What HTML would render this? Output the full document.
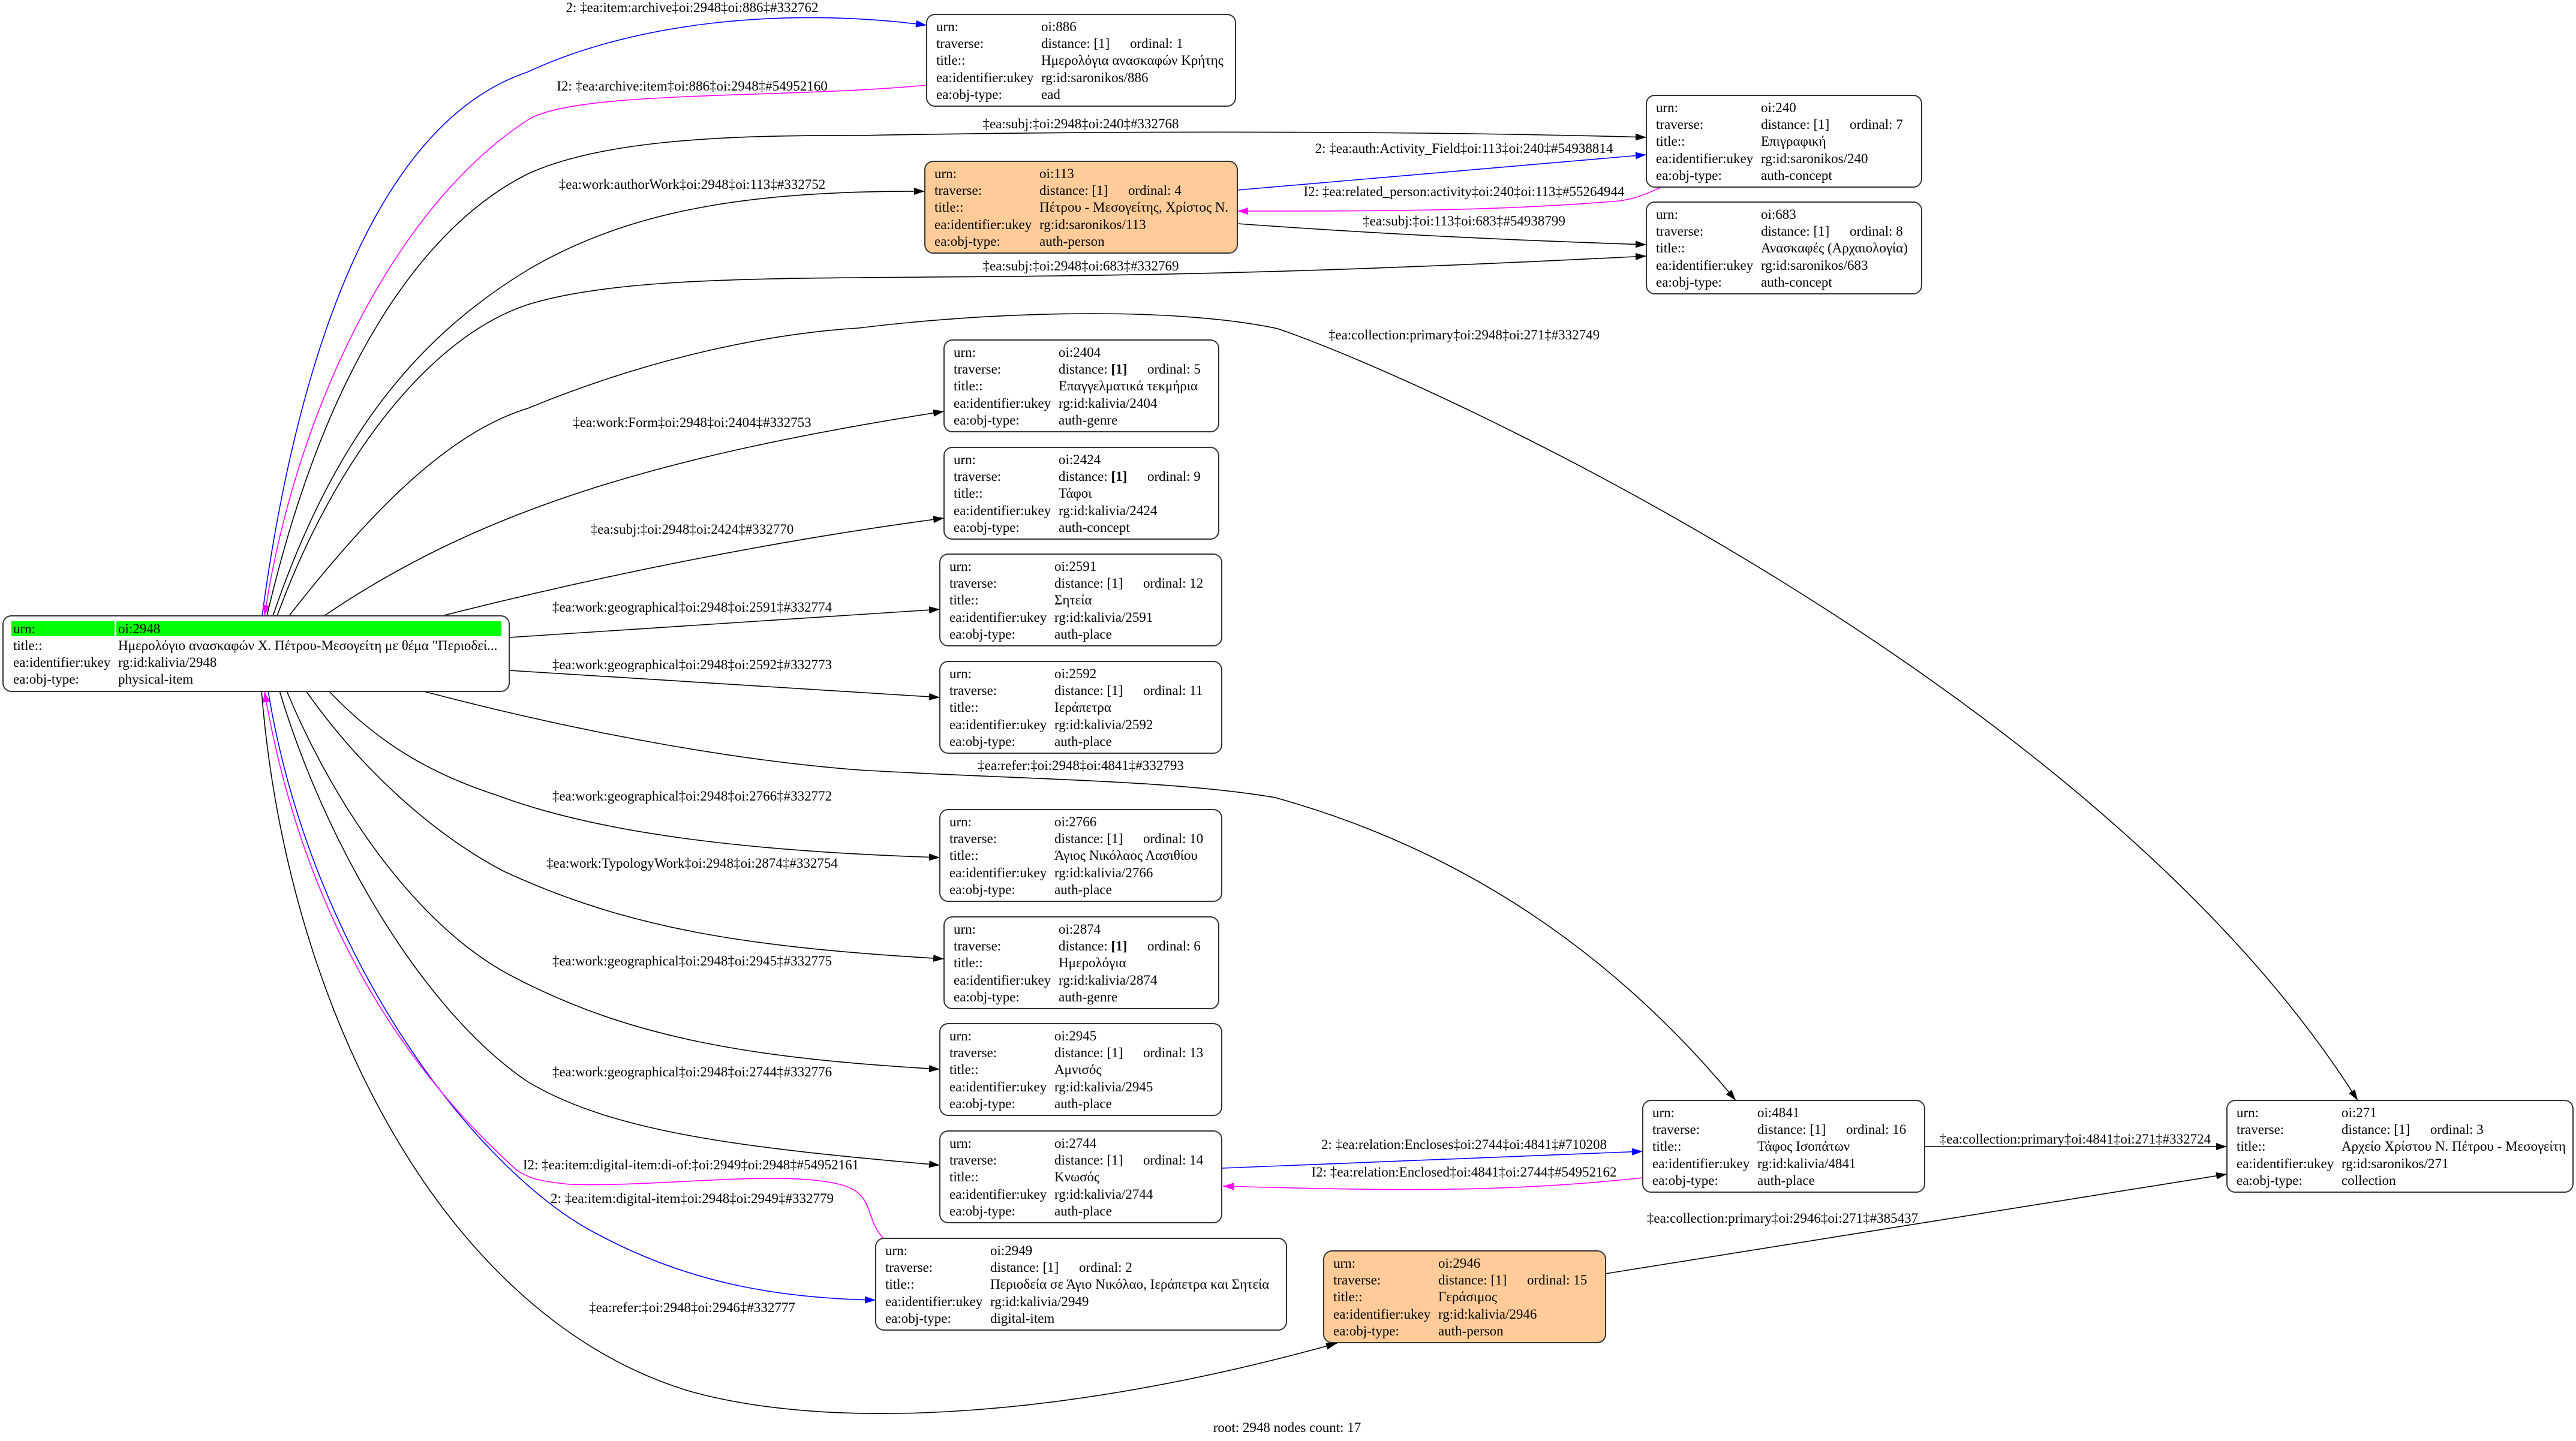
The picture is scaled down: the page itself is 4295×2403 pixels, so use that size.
<!DOCTYPE html>
<html><head><meta charset="utf-8"><style>
html,body{margin:0;padding:0;background:#fff;}
svg{display:block;}
text{font-family:"Liberation Serif","DejaVu Serif",serif;font-size:23px;fill:#000;}
.e{fill:none;stroke-width:1.6;}
.k{stroke:#000}.b{stroke:#0000ff}.m{stroke:#ff00ff}
.n{fill:#fff;stroke:#333;stroke-width:2}
.o{fill:#ffcc99;stroke:#333;stroke-width:2}
.l{text-anchor:middle}
</style></head><body>
<svg width="4295" height="2403" viewBox="0 0 4295 2403" xmlns="http://www.w3.org/2000/svg">
<defs>
<marker id="ak" markerUnits="userSpaceOnUse" markerWidth="20" markerHeight="14" refX="18" refY="6" orient="auto"><path d="M0,0 L18,6 L0,12 z" fill="#000"/></marker>
<marker id="ab" markerUnits="userSpaceOnUse" markerWidth="20" markerHeight="14" refX="18" refY="6" orient="auto"><path d="M0,0 L18,6 L0,12 z" fill="#0000ff"/></marker>
<marker id="am" markerUnits="userSpaceOnUse" markerWidth="20" markerHeight="14" refX="18" refY="6" orient="auto"><path d="M0,0 L18,6 L0,12 z" fill="#ff00ff"/></marker>
</defs>

<!-- edges -->
<path class="e b" marker-end="url(#ab)" d="M437,1027 C500,560 640,200 880,120 C1050,40 1300,10 1545,42"/>
<path class="e m" marker-end="url(#am)" d="M1545,142 C1300,165 960,150 880,200 C650,350 490,700 441,1027"/>
<path class="e k" marker-end="url(#ak)" d="M445,1027 C540,620 700,380 880,290 C1000,235 1200,225 1432,226 C2000,215 2500,222 2745,229"/>
<path class="e k" marker-end="url(#ak)" d="M455,1027 C560,720 700,560 880,450 C1050,350 1250,318 1542,319"/>
<path class="e k" marker-end="url(#ak)" d="M462,1027 C560,760 720,560 880,508 C1000,470 1200,465 1432,463 C1800,460 2100,460 2745,427"/>
<path class="e k" marker-end="url(#ak)" d="M482,1027 C620,850 750,720 880,681 C1100,590 1300,555 1432,547 C1650,520 1950,510 2130,548 C2400,640 3500,1150 3931,1835"/>
<path class="e k" marker-end="url(#ak)" d="M539,1028 C800,850 1100,760 1574,686"/>
<path class="e k" marker-end="url(#ak)" d="M733,1028 C1000,960 1300,900 1574,864"/>
<path class="e k" marker-end="url(#ak)" d="M849,1063 C1100,1045 1350,1030 1567,1016"/>
<path class="e k" marker-end="url(#ak)" d="M849,1118 C1100,1135 1350,1150 1567,1163"/>
<path class="e k" marker-end="url(#ak)" d="M703,1152 C1000,1230 1250,1270 1432,1284 C1700,1300 1950,1300 2126,1330 C2450,1420 2700,1600 2894,1835"/>
<path class="e k" marker-end="url(#ak)" d="M548,1152 C650,1260 750,1300 831,1327 C1000,1390 1250,1420 1567,1430"/>
<path class="e k" marker-end="url(#ak)" d="M510,1152 C600,1280 720,1390 840,1453 C1050,1550 1250,1580 1574,1599"/>
<path class="e k" marker-end="url(#ak)" d="M478,1152 C560,1350 700,1550 858,1630 C1050,1730 1250,1765 1567,1783"/>
<path class="e k" marker-end="url(#ak)" d="M466,1152 C540,1400 700,1680 877,1802 C1020,1890 1250,1915 1567,1943"/>
<path class="e b" marker-end="url(#ab)" d="M447,1152 C520,1600 800,1960 1000,2060 C1150,2140 1300,2165 1460,2168"/>
<path class="e m" marker-end="url(#am)" d="M1473,2065 C1440,2030 1460,1990 1400,1975 C1300,1950 1100,1980 950,1975 C900,1970 880,1965 860,1950 C650,1760 500,1500 441,1153"/>
<path class="e k" marker-end="url(#ak)" d="M436,1152 C480,1700 750,2200 1150,2320 C1400,2390 1800,2360 2229,2240"/>
<path class="e b" marker-end="url(#ab)" d="M2038,1948 L2739,1920"/>
<path class="e m" marker-end="url(#am)" d="M2739,1964 C2500,1990 2300,1985 2039,1978"/>
<path class="e k" marker-end="url(#ak)" d="M3209,1912 L3713,1912"/>
<path class="e k" marker-end="url(#ak)" d="M2677,2124 L3713,1958"/>
<path class="e b" marker-end="url(#ab)" d="M2063,317 L2745,258"/>
<path class="e m" marker-end="url(#am)" d="M2771,312 C2750,320 2735,330 2700,335 C2500,352 2300,352 2063,352"/>
<path class="e k" marker-end="url(#ak)" d="M2063,373 C2300,390 2500,400 2745,408"/>

<!-- edge labels -->
<g class="l">
<text class="l" x="1154" y="20">2: ‡ea:item:archive‡oi:2948‡oi:886‡#332762</text>
<text class="l" x="1154" y="151">I2: ‡ea:archive:item‡oi:886‡oi:2948‡#54952160</text>
<text class="l" x="1154" y="315">‡ea:work:authorWork‡oi:2948‡oi:113‡#332752</text>
<text class="l" x="1154" y="712">‡ea:work:Form‡oi:2948‡oi:2404‡#332753</text>
<text class="l" x="1154" y="890">‡ea:subj:‡oi:2948‡oi:2424‡#332770</text>
<text class="l" x="1154" y="1020">‡ea:work:geographical‡oi:2948‡oi:2591‡#332774</text>
<text class="l" x="1154" y="1116">‡ea:work:geographical‡oi:2948‡oi:2592‡#332773</text>
<text class="l" x="1802" y="214">‡ea:subj:‡oi:2948‡oi:240‡#332768</text>
<text class="l" x="2441" y="255">2: ‡ea:auth:Activity_Field‡oi:113‡oi:240‡#54938814</text>
<text class="l" x="2441" y="327">I2: ‡ea:related_person:activity‡oi:240‡oi:113‡#55264944</text>
<text class="l" x="2441" y="376">‡ea:subj:‡oi:113‡oi:683‡#54938799</text>
<text class="l" x="1802" y="451">‡ea:subj:‡oi:2948‡oi:683‡#332769</text>
<text class="l" x="2441" y="566">‡ea:collection:primary‡oi:2948‡oi:271‡#332749</text>
<text class="l" x="1154" y="1335">‡ea:work:geographical‡oi:2948‡oi:2766‡#332772</text>
<text class="l" x="1154" y="1447">‡ea:work:TypologyWork‡oi:2948‡oi:2874‡#332754</text>
<text class="l" x="1154" y="1610">‡ea:work:geographical‡oi:2948‡oi:2945‡#332775</text>
<text class="l" x="1154" y="1795">‡ea:work:geographical‡oi:2948‡oi:2744‡#332776</text>
<text class="l" x="1152" y="1950">I2: ‡ea:item:digital-item:di-of:‡oi:2949‡oi:2948‡#54952161</text>
<text class="l" x="1154" y="2006">2: ‡ea:item:digital-item‡oi:2948‡oi:2949‡#332779</text>
<text class="l" x="1154" y="2188">‡ea:refer:‡oi:2948‡oi:2946‡#332777</text>
<text class="l" x="1802" y="1284">‡ea:refer:‡oi:2948‡oi:4841‡#332793</text>
<text class="l" x="2441" y="1916">2: ‡ea:relation:Encloses‡oi:2744‡oi:4841‡#710208</text>
<text class="l" x="2441" y="1962">I2: ‡ea:relation:Enclosed‡oi:4841‡oi:2744‡#54952162</text>
<text class="l" x="3460" y="1907">‡ea:collection:primary‡oi:4841‡oi:271‡#332724</text>
<text class="l" x="2972" y="2039">‡ea:collection:primary‡oi:2946‡oi:271‡#385437</text>
<text class="l" x="2146" y="2388">root: 2948 nodes count: 17</text>
</g>

<!-- main node -->
<g transform="translate(5,1027)">
<rect class="n" x="0" y="0" width="844" height="126" rx="14"/>
<rect x="14" y="9" width="172" height="25" fill="#00ff00"/>
<rect x="189" y="9" width="642" height="25" fill="#00ff00"/>
<text x="17" y="29">urn:</text><text x="192" y="29">oi:2948</text>
<text x="17" y="57">title::</text><text x="192" y="57">Ημερολόγιο ανασκαφών Χ. Πέτρου-Μεσογείτη με θέμα "Περιοδεί...</text>
<text x="17" y="85">ea:identifier:ukey</text><text x="192" y="85">rg:id:kalivia/2948</text>
<text x="17" y="113">ea:obj-type:</text><text x="192" y="113">physical-item</text>
</g>

<!-- nodes -->
<g transform="translate(1545,24)"><rect class="n" width="515" height="153" rx="14"/>
<text x="16" y="28">urn:</text><text x="191" y="28">oi:886</text>
<text x="16" y="56">traverse:</text><text x="191" y="56">distance: [1]</text><text x="339" y="56">ordinal: 1</text>
<text x="16" y="84">title::</text><text x="191" y="84">Ημερολόγια ανασκαφών Κρήτης</text>
<text x="16" y="113">ea:identifier:ukey</text><text x="191" y="113">rg:id:saronikos/886</text>
<text x="16" y="141">ea:obj-type:</text><text x="191" y="141">ead</text></g>

<g transform="translate(1542,269)"><rect class="o" width="521" height="153" rx="14"/>
<text x="16" y="28">urn:</text><text x="191" y="28">oi:113</text>
<text x="16" y="56">traverse:</text><text x="191" y="56">distance: [1]</text><text x="339" y="56">ordinal: 4</text>
<text x="16" y="84">title::</text><text x="191" y="84">Πέτρου - Μεσογείτης, Χρίστος Ν.</text>
<text x="16" y="113">ea:identifier:ukey</text><text x="191" y="113">rg:id:saronikos/113</text>
<text x="16" y="141">ea:obj-type:</text><text x="191" y="141">auth-person</text></g>

<g transform="translate(2745,159)"><rect class="n" width="459" height="153" rx="14"/>
<text x="16" y="28">urn:</text><text x="191" y="28">oi:240</text>
<text x="16" y="56">traverse:</text><text x="191" y="56">distance: [1]</text><text x="339" y="56">ordinal: 7</text>
<text x="16" y="84">title::</text><text x="191" y="84">Επιγραφική</text>
<text x="16" y="113">ea:identifier:ukey</text><text x="191" y="113">rg:id:saronikos/240</text>
<text x="16" y="141">ea:obj-type:</text><text x="191" y="141">auth-concept</text></g>

<g transform="translate(2745,337)"><rect class="n" width="459" height="153" rx="14"/>
<text x="16" y="28">urn:</text><text x="191" y="28">oi:683</text>
<text x="16" y="56">traverse:</text><text x="191" y="56">distance: [1]</text><text x="339" y="56">ordinal: 8</text>
<text x="16" y="84">title::</text><text x="191" y="84">Ανασκαφές (Αρχαιολογία)</text>
<text x="16" y="113">ea:identifier:ukey</text><text x="191" y="113">rg:id:saronikos/683</text>
<text x="16" y="141">ea:obj-type:</text><text x="191" y="141">auth-concept</text></g>

<g transform="translate(1574,567)"><rect class="n" width="458" height="153" rx="14"/>
<text x="16" y="28">urn:</text><text x="191" y="28">oi:2404</text>
<text x="16" y="56">traverse:</text><text x="191" y="56">distance: <tspan font-weight="bold">[1]</tspan></text><text x="339" y="56">ordinal: 5</text>
<text x="16" y="84">title::</text><text x="191" y="84">Επαγγελματικά τεκμήρια</text>
<text x="16" y="113">ea:identifier:ukey</text><text x="191" y="113">rg:id:kalivia/2404</text>
<text x="16" y="141">ea:obj-type:</text><text x="191" y="141">auth-genre</text></g>

<g transform="translate(1574,746)"><rect class="n" width="458" height="153" rx="14"/>
<text x="16" y="28">urn:</text><text x="191" y="28">oi:2424</text>
<text x="16" y="56">traverse:</text><text x="191" y="56">distance: <tspan font-weight="bold">[1]</tspan></text><text x="339" y="56">ordinal: 9</text>
<text x="16" y="84">title::</text><text x="191" y="84">Τάφοι</text>
<text x="16" y="113">ea:identifier:ukey</text><text x="191" y="113">rg:id:kalivia/2424</text>
<text x="16" y="141">ea:obj-type:</text><text x="191" y="141">auth-concept</text></g>

<g transform="translate(1567,924)"><rect class="n" width="470" height="153" rx="14"/>
<text x="16" y="28">urn:</text><text x="191" y="28">oi:2591</text>
<text x="16" y="56">traverse:</text><text x="191" y="56">distance: [1]</text><text x="339" y="56">ordinal: 12</text>
<text x="16" y="84">title::</text><text x="191" y="84">Σητεία</text>
<text x="16" y="113">ea:identifier:ukey</text><text x="191" y="113">rg:id:kalivia/2591</text>
<text x="16" y="141">ea:obj-type:</text><text x="191" y="141">auth-place</text></g>

<g transform="translate(1567,1103)"><rect class="n" width="470" height="153" rx="14"/>
<text x="16" y="28">urn:</text><text x="191" y="28">oi:2592</text>
<text x="16" y="56">traverse:</text><text x="191" y="56">distance: [1]</text><text x="339" y="56">ordinal: 11</text>
<text x="16" y="84">title::</text><text x="191" y="84">Ιεράπετρα</text>
<text x="16" y="113">ea:identifier:ukey</text><text x="191" y="113">rg:id:kalivia/2592</text>
<text x="16" y="141">ea:obj-type:</text><text x="191" y="141">auth-place</text></g>

<g transform="translate(1567,1350)"><rect class="n" width="470" height="153" rx="14"/>
<text x="16" y="28">urn:</text><text x="191" y="28">oi:2766</text>
<text x="16" y="56">traverse:</text><text x="191" y="56">distance: [1]</text><text x="339" y="56">ordinal: 10</text>
<text x="16" y="84">title::</text><text x="191" y="84">Άγιος Νικόλαος Λασιθίου</text>
<text x="16" y="113">ea:identifier:ukey</text><text x="191" y="113">rg:id:kalivia/2766</text>
<text x="16" y="141">ea:obj-type:</text><text x="191" y="141">auth-place</text></g>

<g transform="translate(1574,1529)"><rect class="n" width="458" height="153" rx="14"/>
<text x="16" y="28">urn:</text><text x="191" y="28">oi:2874</text>
<text x="16" y="56">traverse:</text><text x="191" y="56">distance: <tspan font-weight="bold">[1]</tspan></text><text x="339" y="56">ordinal: 6</text>
<text x="16" y="84">title::</text><text x="191" y="84">Ημερολόγια</text>
<text x="16" y="113">ea:identifier:ukey</text><text x="191" y="113">rg:id:kalivia/2874</text>
<text x="16" y="141">ea:obj-type:</text><text x="191" y="141">auth-genre</text></g>

<g transform="translate(1567,1707)"><rect class="n" width="470" height="153" rx="14"/>
<text x="16" y="28">urn:</text><text x="191" y="28">oi:2945</text>
<text x="16" y="56">traverse:</text><text x="191" y="56">distance: [1]</text><text x="339" y="56">ordinal: 13</text>
<text x="16" y="84">title::</text><text x="191" y="84">Αμνισός</text>
<text x="16" y="113">ea:identifier:ukey</text><text x="191" y="113">rg:id:kalivia/2945</text>
<text x="16" y="141">ea:obj-type:</text><text x="191" y="141">auth-place</text></g>

<g transform="translate(1567,1886)"><rect class="n" width="470" height="153" rx="14"/>
<text x="16" y="28">urn:</text><text x="191" y="28">oi:2744</text>
<text x="16" y="56">traverse:</text><text x="191" y="56">distance: [1]</text><text x="339" y="56">ordinal: 14</text>
<text x="16" y="84">title::</text><text x="191" y="84">Κνωσός</text>
<text x="16" y="113">ea:identifier:ukey</text><text x="191" y="113">rg:id:kalivia/2744</text>
<text x="16" y="141">ea:obj-type:</text><text x="191" y="141">auth-place</text></g>

<g transform="translate(1460,2065)"><rect class="n" width="685" height="153" rx="14"/>
<text x="16" y="28">urn:</text><text x="191" y="28">oi:2949</text>
<text x="16" y="56">traverse:</text><text x="191" y="56">distance: [1]</text><text x="339" y="56">ordinal: 2</text>
<text x="16" y="84">title::</text><text x="191" y="84">Περιοδεία σε Άγιο Νικόλαο, Ιεράπετρα και Σητεία</text>
<text x="16" y="113">ea:identifier:ukey</text><text x="191" y="113">rg:id:kalivia/2949</text>
<text x="16" y="141">ea:obj-type:</text><text x="191" y="141">digital-item</text></g>

<g transform="translate(2207,2086)"><rect class="o" width="470" height="153" rx="14"/>
<text x="16" y="28">urn:</text><text x="191" y="28">oi:2946</text>
<text x="16" y="56">traverse:</text><text x="191" y="56">distance: [1]</text><text x="339" y="56">ordinal: 15</text>
<text x="16" y="84">title::</text><text x="191" y="84">Γεράσιμος</text>
<text x="16" y="113">ea:identifier:ukey</text><text x="191" y="113">rg:id:kalivia/2946</text>
<text x="16" y="141">ea:obj-type:</text><text x="191" y="141">auth-person</text></g>

<g transform="translate(2739,1835)"><rect class="n" width="470" height="153" rx="14"/>
<text x="16" y="28">urn:</text><text x="191" y="28">oi:4841</text>
<text x="16" y="56">traverse:</text><text x="191" y="56">distance: [1]</text><text x="339" y="56">ordinal: 16</text>
<text x="16" y="84">title::</text><text x="191" y="84">Τάφος Ισοπάτων</text>
<text x="16" y="113">ea:identifier:ukey</text><text x="191" y="113">rg:id:kalivia/4841</text>
<text x="16" y="141">ea:obj-type:</text><text x="191" y="141">auth-place</text></g>

<g transform="translate(3713,1835)"><rect class="n" width="577" height="153" rx="14"/>
<text x="16" y="28">urn:</text><text x="191" y="28">oi:271</text>
<text x="16" y="56">traverse:</text><text x="191" y="56">distance: [1]</text><text x="339" y="56">ordinal: 3</text>
<text x="16" y="84">title::</text><text x="191" y="84">Αρχείο Χρίστου Ν. Πέτρου - Μεσογείτη</text>
<text x="16" y="113">ea:identifier:ukey</text><text x="191" y="113">rg:id:saronikos/271</text>
<text x="16" y="141">ea:obj-type:</text><text x="191" y="141">collection</text></g>
</svg>
</body></html>
